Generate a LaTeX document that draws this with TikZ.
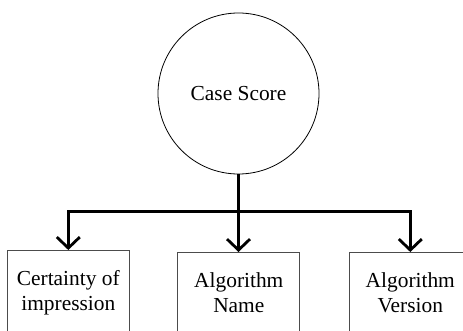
\documentclass[tikz,border=0pt]{standalone}
\usepackage{fontspec}
\setmainfont{Liberation Serif}
\usetikzlibrary{arrows.meta}
\begin{document}
\begin{tikzpicture}[x=1pt,y=1pt,
  conn/.style={line width=2.8pt, line join=miter, -{Straight Barb[length=11pt,width=23pt,line width=2.8pt]}},
  box/.style={draw=black!70, line width=0.8pt, rectangle, minimum width=122pt, anchor=north, align=center, inner sep=0pt,
    font=\fontsize{21.4pt}{25pt}\selectfont},
  bubble/.style={draw, circle, line width=0.8pt, minimum size=161pt, inner sep=0pt, font=\fontsize{21.4pt}{25pt}\selectfont}]
\useasboundingbox (0,0) rectangle (463,330);
\clip (0,0) rectangle (463,330);
\node[bubble] (cs) at (238.5,236.5) {Case Score};
\node[box, minimum height=85.2pt] (b1) at (68.3,80) {Certainty of\\impression};
\node[box, minimum height=80.4pt] (b2) at (238.8,78) {Algorithm\\Name};
\node[box, minimum height=80.4pt] (b3) at (410.3,78) {Algorithm\\Version};
\coordinate (j) at (238.5,118.3);
\draw[conn] (cs.south) -- (cs.south |- b2.north);
\draw[conn] (j) -| (b1.north);
\draw[conn] (j) -| (b3.north);
\end{tikzpicture}
\end{document}
